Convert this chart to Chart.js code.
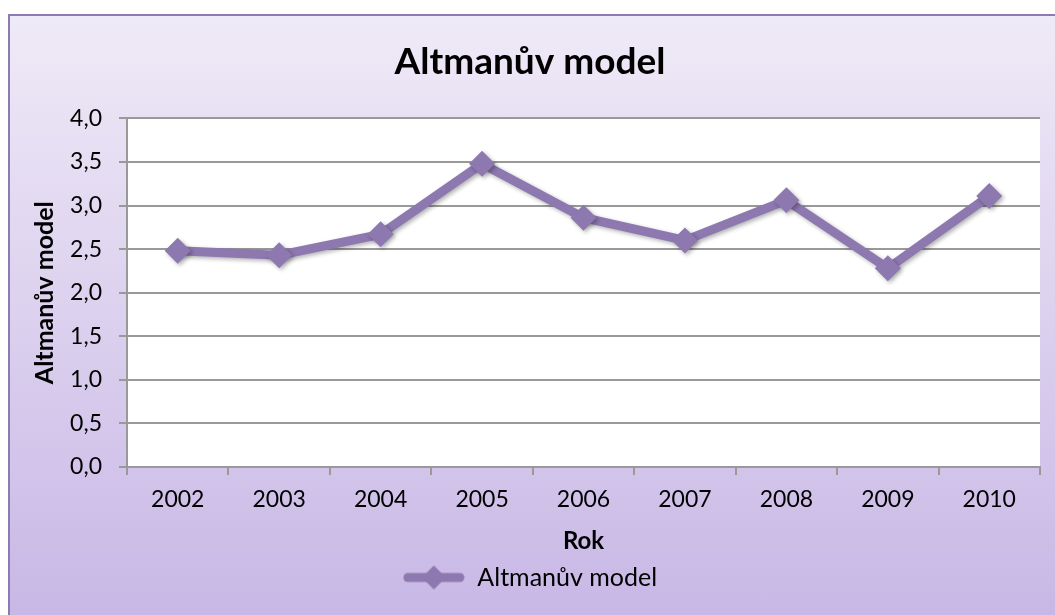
<!DOCTYPE html>
<html><head><meta charset="utf-8">
<script src="https://cdn.jsdelivr.net/npm/chart.js@4"></script>
<style>
html,body{margin:0;padding:0;background:#fff;width:1055px;height:615px;overflow:hidden}
#frame{position:absolute;left:8px;top:14px;width:1070px;height:620px;border:2px solid #8d7ab3;background:linear-gradient(#efeaf7,#c7b6e5);box-sizing:border-box}
#wrap{position:absolute;left:0;top:0;width:1055px;height:615px}
</style></head>
<body><div id="frame"></div><div id="wrap"><canvas id="c" width="1055" height="615"></canvas></div>
<script>
const years = ['2002','2003','2004','2005','2006','2007','2008','2009','2010'];
const altman = [2.48, 2.43, 2.67, 3.48, 2.86, 2.60, 3.06, 2.28, 3.11];
const seriesName = 'Altmanův model';
const chartTitle = 'Altmanův model';
const xTitle = 'Rok';
const yTitle = 'Altmanův model';

const LINE = '#8d78b0';
const FONT = 'Lato';

// legend symbol: thick line with diamond
const sym = document.createElement('canvas');
sym.width = 62; sym.height = 26;
(function(){
  const g = sym.getContext('2d');
  g.strokeStyle = LINE; g.lineWidth = 9; g.lineCap = 'round';
  g.beginPath(); g.moveTo(5,13); g.lineTo(57,13); g.stroke();
  g.fillStyle = LINE; g.beginPath();
  g.moveTo(31,1); g.lineTo(43,13); g.lineTo(31,25); g.lineTo(19,13); g.closePath(); g.fill();
})();

const areaBg = {
  id:'areaBg',
  beforeDraw(chart){
    const {ctx, chartArea:a} = chart;
    ctx.save(); ctx.fillStyle = '#fff';
    ctx.fillRect(a.left, a.top, a.right-a.left, a.bottom-a.top);
    ctx.restore();
  },
  beforeDatasetsDraw(chart){
    const ctx = chart.ctx; ctx.save();
    ctx.shadowColor = 'rgba(0,0,0,0.3)'; ctx.shadowBlur = 4;
    ctx.shadowOffsetX = 2; ctx.shadowOffsetY = 2;
  },
  afterDatasetsDraw(chart){ chart.ctx.restore(); }
};

new Chart(document.getElementById('c'), {
  type:'line',
  data:{ labels: years, datasets:[{
    label: seriesName, data: altman,
    borderColor: LINE, backgroundColor: LINE, borderWidth: 9,
    pointStyle:'rectRot', pointRadius: 13, pointHoverRadius: 13,
    pointBackgroundColor: LINE, pointBorderColor: LINE, pointBorderWidth: 0,
    tension: 0
  }]},
  options:{
    responsive:false, animation:false,
    layout:{ padding:{ left:20, right:15, top:0, bottom:15 } },
    plugins:{
      title:{ display:true, text: chartTitle, color:'#000',
        font:{ family:FONT, size:37, weight:'bold' }, padding:{ top:40, bottom:34 } },
      legend:{ position:'bottom',
        labels:{ usePointStyle:true, pointStyleWidth:62, boxHeight:22, color:'#000',
          font:{ family:FONT, size:25 }, padding:9,
          generateLabels(chart){
            return [{ text: seriesName, pointStyle: sym, fillStyle: LINE, strokeStyle: LINE, lineWidth:0, datasetIndex:0, fontColor:'#000' }];
          } } },
      tooltip:{ enabled:false }
    },
    scales:{
      x:{ offset:true,
        grid:{ offset:true, drawOnChartArea:false, drawTicks:true, tickLength:8, color:'#999', lineWidth:2 },
        border:{ display:true, color:'#999', width:2 },
        ticks:{ color:'#000', font:{ family:FONT, size:23 }, padding:11 },
        title:{ display:true, text:xTitle, color:'#000', font:{ family:FONT, size:24, weight:'bold' }, padding:{ top:4, bottom:0 } },
        afterFit(s){ s.height = 89; }
      },
      y:{ min:0, max:4,
        ticks:{ stepSize:0.5, color:'#000', font:{ family:FONT, size:23 }, padding:17,
          callback:v => v.toFixed(1).replace('.', ',') },
        grid:{ color:'#999', lineWidth:2, tickLength:8 },
        border:{ display:true, color:'#999', width:2 },
        title:{ display:true, text:yTitle, color:'#000', font:{ family:FONT, size:25, weight:'bold' }, padding:{ top:10, bottom:0 } },
        afterFit(s){ s.width = 107; }
      }
    }
  },
  plugins:[areaBg]
});
</script>
</body></html>
